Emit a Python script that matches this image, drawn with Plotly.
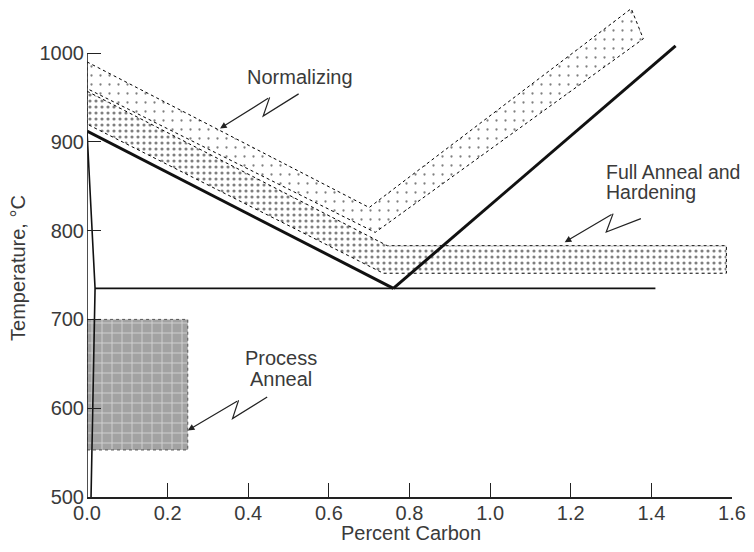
import plotly.graph_objects as go

# ---- data ----
a3_x = [0.0, 0.76]
a3_t = [912, 735]
acm_x = [0.76, 1.46]
acm_t = [735, 1008]
a1_x = [0.02, 1.41]
a1_t = [735, 735]
alpha_x = [0.0, 0.02, 0.01]
alpha_t = [912, 735, 500]

norm_x = [0.0, 0.70, 1.35, 1.38, 0.715, 0.0, 0.0]
norm_t = [990, 826, 1050, 1016, 798, 960, 990]
full_x = [0.0, 0.745, 1.586, 1.586, 0.735, 0.0, 0.0]
full_t = [957, 783, 783, 752, 752, 920, 957]
proc_x = [0.0, 0.25, 0.25, 0.0, 0.0]
proc_t = [553, 553, 700, 700, 553]

x_ticks = [0.0, 0.2, 0.4, 0.6, 0.8, 1.0, 1.2, 1.4, 1.6]
x_ticktext = ["0.0", "0.2", "0.4", "0.6", "0.8", "1.0", "1.2", "1.4", "1.6"]
y_ticks = [500, 600, 700, 800, 900, 1000]

FONT = "Liberation Sans, Arial, sans-serif"
TXT = "#3a3a3a"
AX = "#222222"

fig = go.Figure()

fig.add_trace(go.Scatter(
    x=norm_x, y=norm_t, mode="lines", fill="toself", fillcolor="white",
    fillpattern=dict(shape=".", fgcolor="black", bgcolor="white", size=9, solidity=0.05),
    line=dict(color="black", width=1, dash="dot"), hoverinfo="skip", showlegend=False))

fig.add_trace(go.Scatter(
    x=full_x, y=full_t, mode="lines", fill="toself", fillcolor="white",
    fillpattern=dict(shape=".", fgcolor="black", bgcolor="white", size=6, solidity=0.22),
    line=dict(color="black", width=1, dash="dot"), hoverinfo="skip", showlegend=False))

fig.add_trace(go.Scatter(
    x=proc_x, y=proc_t, mode="lines", fill="toself", fillcolor="#a2a2a2",
    fillpattern=dict(shape="+", fgcolor="white", bgcolor="#a2a2a2", size=10, solidity=0.18),
    line=dict(color="#555555", width=1, dash="dot"), hoverinfo="skip", showlegend=False))

for xs, ts, w in [(a3_x, a3_t, 3), (acm_x, acm_t, 3), (a1_x, a1_t, 1.8), (alpha_x, alpha_t, 1.6)]:
    fig.add_trace(go.Scatter(x=xs, y=ts, mode="lines", line=dict(color="#111111", width=w),
                             hoverinfo="skip", showlegend=False))

shapes = [
    dict(type="line", xref="x", yref="y", x0=0, x1=0, y0=500, y1=1000,
         line=dict(color=AX, width=1.6)),
]
# zigzag leaders
zig = [
    [(0.525, 954), (0.437, 929), (0.453, 950)],
    [(0.447, 612.6), (0.361, 588.3), (0.376, 608.9)],
    [(1.374, 813.5), (1.288, 798.4), (1.305, 819.1)],
]
tips = [(0.330, 915), (0.250, 575), (1.185, 787)]
for pts in zig:
    path = "M " + " L ".join(f"{px},{py}" for px, py in pts)
    shapes.append(dict(type="path", xref="x", yref="y", path=path,
                       line=dict(color="#222222", width=1.2)))

annotations = []
for pts, tip in zip(zig, tips):
    annotations.append(dict(x=tip[0], y=tip[1], xref="x", yref="y",
                            ax=pts[-1][0], ay=pts[-1][1], axref="x", ayref="y",
                            text="", showarrow=True, arrowhead=2, arrowsize=1.1,
                            arrowwidth=1.2, arrowcolor="#222222", standoff=0))

def label(text, x, y, size=20, **kw):
    d = dict(text=text, x=x, y=y, xref="x", yref="y", showarrow=False,
             font=dict(family=FONT, size=size, color=TXT))
    d.update(kw)
    annotations.append(d)

label("Normalizing", 0.529, 973)
label("Process", 0.48, 657)
label("Anneal", 0.48, 633)
label("Full Anneal and", 1.283, 866, size=19.5, xanchor="left")
label("Hardening", 1.283, 843, size=19.5, xanchor="left")

annotations.append(dict(text="Percent Carbon", x=0.804, y=0, xref="x", yref="paper",
                        yshift=-36, showarrow=False, yanchor="middle",
                        font=dict(family=FONT, size=20, color=TXT)))
annotations.append(dict(text="Temperature, °C", x=0, y=758, xref="paper", yref="y",
                        xshift=-69, showarrow=False, textangle=-90, xanchor="center",
                        font=dict(family=FONT, size=20, color=TXT)))

# the page body keeps its default 8px margin: figure sized/offset to compensate
fig.update_layout(
    width=738, height=536,
    margin=dict(l=79, r=9, t=0, b=47, pad=0),
    paper_bgcolor="white", plot_bgcolor="white",
    shapes=shapes, annotations=annotations,
    showlegend=False,
    xaxis=dict(range=[0, 1.6], showgrid=False, zeroline=False, showline=True,
               linecolor=AX, linewidth=1.6, ticks="inside", ticklen=14, tickwidth=1.3,
               tickcolor=AX, tickvals=x_ticks, ticktext=x_ticktext,
               ticklabelstandoff=-3, ticklabeloverflow="allow",
               tickfont=dict(family=FONT, size=20, color=TXT)),
    yaxis=dict(range=[500, 1050.7], showgrid=False, zeroline=False, showline=False,
               ticks="inside", ticklen=14, tickwidth=1.3, tickcolor=AX,
               ticklabelstandoff=2,
               tickvals=y_ticks, tickfont=dict(family=FONT, size=20, color=TXT)),
)

fig.write_html("out.html")
